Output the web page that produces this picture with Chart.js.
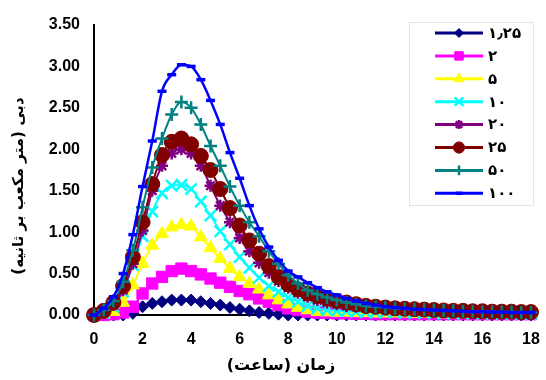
<!DOCTYPE html>
<html>
<head>
<meta charset="utf-8">
<script src="https://cdn.jsdelivr.net/npm/chart.js@4.4.1/dist/chart.umd.min.js"></script>
<style>
  body { margin: 0; background: #fff; }
  #caja { width: 546px; height: 380px; }
</style>
</head>
<body>
<div id="caja"><canvas id="hidrograma"></canvas></div>
<script>
// Tiempo (horas)
const tiempos = [0,0.4,0.8,1.2,1.6,2,2.4,2.8,3.2,3.6,
  4,4.4,4.8,5.2,5.6,6,6.4,6.8,7.2,7.6,
  8,8.4,8.8,9.2,9.6,10,10.4,10.8,11.2,11.6,
  12,12.4,12.8,13.2,13.6,14,14.4,14.8,15.2,15.6,
  16,16.4,16.8,17.2,17.6,18];

// Caudal (m3/s) por serie
const q125 = [0,0,0,0,0.02,0.10,0.14,0.16,0.18,0.18,
  0.18,0.16,0.14,0.12,0.09,0.07,0.05,0.03,0.02,0.01,
  0,0,0,0,0,0,0,0,0,0,
  0,0,0,0,0,0,0,0,0,0,
  0,0,0,0,0,0];
const q2 = [0,0,0.01,0.03,0.10,0.26,0.38,0.46,0.53,0.56,
  0.53,0.49,0.44,0.39,0.34,0.29,0.25,0.20,0.16,0.12,
  0.08,0.06,0.04,0.03,0.025,0.02,0.02,0.015,0.015,0.01,
  0.01,0.01,0.01,0.01,0.01,0.01,0.01,0.01,0.01,0.01,
  0.01,0.01,0.01,0.01,0.01,0.01];
const q5 = [0,0.01,0.04,0.15,0.36,0.62,0.84,0.98,1.06,1.09,
  1.07,0.94,0.81,0.68,0.56,0.46,0.38,0.31,0.24,0.18,
  0.13,0.09,0.06,0.04,0.035,0.03,0.03,0.025,0.025,0.02,
  0.02,0.02,0.02,0.015,0.015,0.015,0.01,0.01,0.01,0.01,
  0.01,0.01,0.01,0.01,0.01,0.01];
const q10 = [0,0.03,0.10,0.28,0.60,0.95,1.25,1.47,1.56,1.57,
  1.52,1.37,1.20,1.01,0.85,0.70,0.57,0.45,0.35,0.28,
  0.21,0.16,0.11,0.08,0.06,0.05,0.045,0.04,0.035,0.03,
  0.03,0.03,0.025,0.025,0.025,0.02,0.02,0.02,0.02,0.02,
  0.015,0.015,0.015,0.015,0.015,0.015];
const q20 = [0,0.04,0.12,0.30,0.62,1.02,1.50,1.80,1.95,2.00,
  1.95,1.80,1.56,1.32,1.12,0.93,0.77,0.63,0.51,0.41,
  0.33,0.27,0.22,0.18,0.15,0.13,0.11,0.10,0.09,0.08,
  0.07,0.065,0.06,0.055,0.05,0.05,0.045,0.04,0.04,0.035,
  0.035,0.035,0.03,0.03,0.03,0.03];
const q25 = [0,0.05,0.15,0.35,0.70,1.12,1.58,1.93,2.09,2.13,
  2.06,1.92,1.75,1.52,1.29,1.08,0.90,0.74,0.59,0.46,
  0.37,0.31,0.26,0.23,0.20,0.17,0.15,0.13,0.11,0.10,
  0.09,0.08,0.075,0.07,0.065,0.06,0.055,0.05,0.05,0.045,
  0.045,0.04,0.04,0.04,0.035,0.035];
const q50 = [0,0.06,0.17,0.40,0.78,1.30,1.78,2.13,2.42,2.57,
  2.50,2.30,2.04,1.80,1.55,1.32,1.12,0.95,0.77,0.62,
  0.48,0.38,0.30,0.25,0.21,0.18,0.15,0.13,0.11,0.10,
  0.09,0.08,0.075,0.07,0.065,0.06,0.055,0.05,0.045,0.045,
  0.04,0.04,0.035,0.035,0.03,0.03];
const q100 = [0,0.08,0.22,0.50,0.97,1.55,2.10,2.70,2.90,3.02,
  3.00,2.84,2.59,2.30,1.96,1.65,1.32,1.04,0.82,0.66,
  0.53,0.46,0.39,0.33,0.28,0.24,0.20,0.17,0.14,0.12,
  0.10,0.09,0.08,0.07,0.065,0.06,0.055,0.05,0.045,0.04,
  0.04,0.035,0.035,0.03,0.03,0.03];

const etiquetas = ['۱٫۲۵', '۲', '۵', '۱۰', '۲۰', '۲۵', '۵۰', '۱۰۰'];
const tituloY = 'دبی (متر مکعب بر ثانیه)';
const tituloX = 'زمان (ساعت)';

// Estilo de cada serie (colores de Excel)
const series = [
  { datos: q125, color: '#000080', punto: 'rectRot', radio: 6, borde: 1 },
  { datos: q2,   color: '#ff00ff', punto: 'rect', radio: 8, borde: 1 },
  { datos: q5,   color: '#ffff00', punto: 'triangle', radio: 7.5, borde: 1 },
  { datos: q10,  color: '#00ffff', punto: 'crossRot', radio: 8, borde: 2.5 },
  { datos: q20,  color: '#800080', punto: 'star', radio: 6, borde: 2.5 },
  { datos: q25,  color: '#800000', punto: 'circle', radio: 7.5, borde: 1 },
  { datos: q50,  color: '#008080', punto: 'cross', radio: 6.5, borde: 2.5 },
  { datos: q100, color: '#0000ff', punto: 'line', radio: 4.5, borde: 3.5 }
];

const datasets = series.map((s, i) => ({
  label: etiquetas[i],
  data: tiempos.map((t, k) => ({ x: t, y: s.datos[k] })),
  borderColor: s.color,
  backgroundColor: s.color,
  borderWidth: i === 7 ? 2.5 : 2,
  pointStyle: s.punto,
  pointRadius: s.radio,
  pointBorderWidth: s.borde,
  pointBorderColor: s.color,
  pointBackgroundColor: s.color,
  cubicInterpolationMode: 'monotone',
  clip: false,
  order: 7 - i   // la última serie queda encima
}));

// Títulos de ejes y leyenda dibujados a mano
const extras = {
  id: 'extras',
  afterDraw(chart) {
    const ctx = chart.ctx;
    ctx.save();
    ctx.fillStyle = '#000';
    ctx.textAlign = 'center';
    ctx.textBaseline = 'middle';
    ctx.direction = 'rtl';
    ctx.font = 'bold 15px "DejaVu Sans"';
    ctx.save();
    ctx.translate(19, 186);
    ctx.rotate(-Math.PI / 2);
    ctx.fillText(tituloY, 0, 0);
    ctx.restore();
    ctx.font = 'bold 16px "DejaVu Sans"';
    ctx.fillText(tituloX, 281, 366);

    // leyenda
    ctx.direction = 'ltr';
    ctx.fillStyle = '#fff';
    ctx.fillRect(410, 23, 123, 182);
    ctx.strokeStyle = '#e4e4e4';
    ctx.lineWidth = 1;
    ctx.strokeRect(409.5, 22.5, 124, 183);
    series.forEach((s, i) => {
      const y = 33 + i * 22.9;
      ctx.strokeStyle = s.color;
      ctx.lineWidth = 3;
      ctx.beginPath();
      ctx.moveTo(435, y);
      ctx.lineTo(483, y);
      ctx.stroke();
      ctx.fillStyle = s.color;
      ctx.lineWidth = s.borde;
      Chart.helpers.drawPoint(ctx, { pointStyle: s.punto, radius: s.radio * 0.75, rotation: 0, borderWidth: s.borde }, 459, y);
      ctx.fillStyle = '#000';
      ctx.textAlign = 'left';
      ctx.font = 'bold 15px "DejaVu Sans"';
      ctx.fillText(etiquetas[i], 488, y + 1);
    });
    ctx.restore();
  }
};

const fuenteTicks = { family: '"Liberation Sans", Arial', size: 16, weight: 'bold' };

new Chart(document.getElementById('hidrograma').getContext('2d'), {
  type: 'line',
  data: { datasets },
  options: {
    responsive: true,
    maintainAspectRatio: false,
    animation: false,
    layout: { autoPadding: false, padding: { top: 25, right: 15, bottom: 0, left: 0 } },
    plugins: { legend: { display: false }, tooltip: { enabled: false } },
    scales: {
      x: {
        type: 'linear',
        min: 0,
        max: 18,
        // el largo de marca solo separa las etiquetas del eje
        grid: { display: false, drawTicks: true, tickLength: 13 },
        border: { display: true, color: '#000', width: 2 },
        ticks: { stepSize: 2, color: '#000', font: fuenteTicks, padding: 2 },
        afterFit: s => { s.height = 65; }
      },
      y: {
        min: 0,
        max: 3.5,
        grid: { display: false, drawTicks: false },
        border: { display: true, color: '#000', width: 2 },
        ticks: { stepSize: 0.5, color: '#000', font: fuenteTicks, padding: 14,
                 callback: v => v.toFixed(2) },
        afterFit: s => { s.width = 94; }
      }
    }
  },
  plugins: [extras]
});
</script>
</body>
</html>
